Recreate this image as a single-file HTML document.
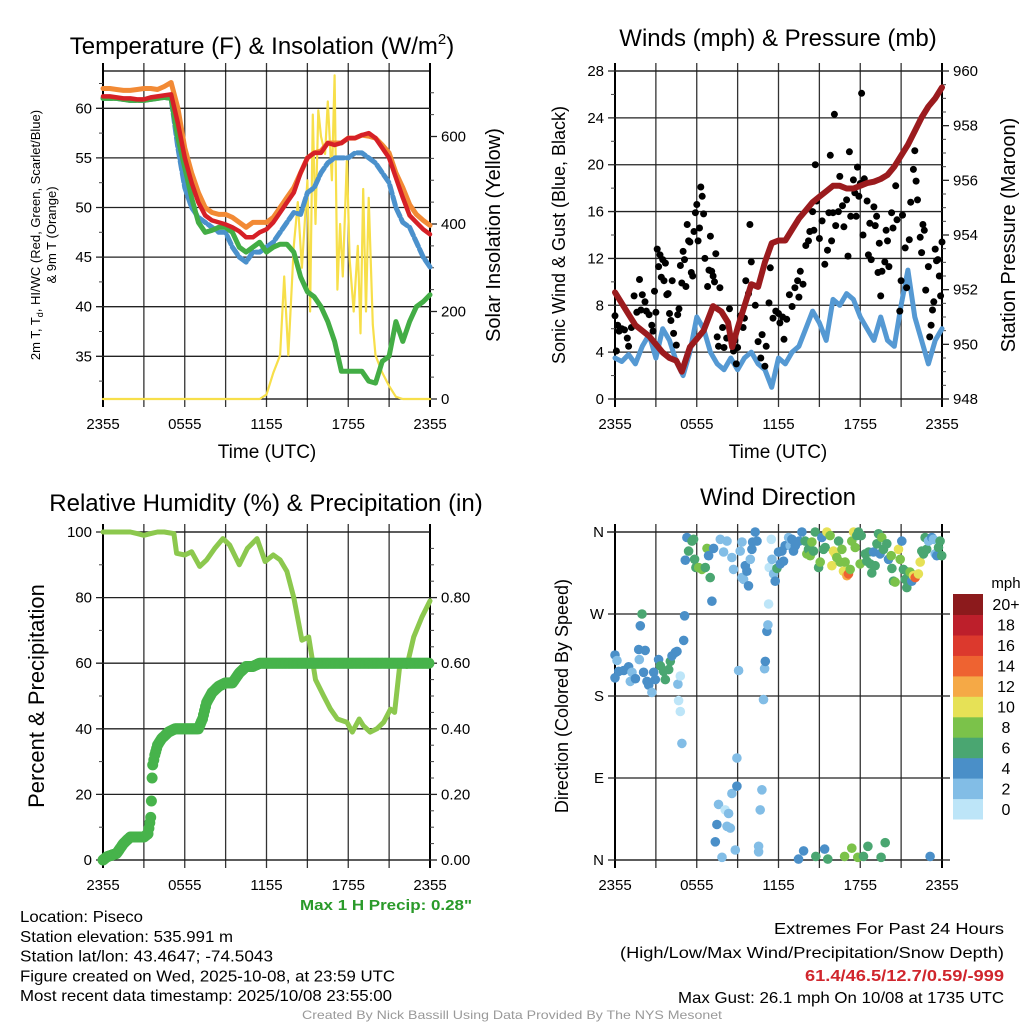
<!DOCTYPE html>
<html><head><meta charset="utf-8"><style>
html,body{margin:0;padding:0;background:#fff;}
svg{display:block;font-family:"Liberation Sans",sans-serif;}
</style></head><body>
<svg id="c" width="1024" height="1024" xmlns="http://www.w3.org/2000/svg"></svg>
<script>
// ---------- DATA ----------
const tempT=[0,0.5,1,1.5,2,2.5,3,3.5,4,4.5,5,5.5,6,6.5,7,7.5,8,8.5,9,9.5,10,10.5,11,11.5,12,12.5,13,13.5,14,14.5,15,15.5,16,16.5,17,17.5,18,18.5,19,19.5,20,20.5,21,21.5,22,22.5,23,23.5,24];
const temp2m=[61.2,61.2,61.1,61,61,60.9,60.9,61.1,61.2,61.3,61.4,58.5,55,52.5,50.5,49.2,48.7,48.5,48.3,48,47.6,47,47,47.5,47.8,48.5,49.5,50.5,51.5,53.5,55,55.5,55.5,56.5,56.3,56.5,57,57,57.3,57.5,57,56,55,53,51,49.2,48.5,47.8,47.3];
const temp9m=[62,62,61.9,61.8,61.8,61.9,62,62,61.9,62.2,62.6,60,56,53.5,51.5,50,49.5,49.3,49.3,49,48.5,48,48.5,48.5,48.5,49,50,51,52,53.5,55,55.5,55.7,56.5,56.5,56.5,57,57,57.3,57.2,57,56.3,55.5,53.5,52,50.3,49.3,48.7,48.2];
const dewpt=[61,61,61,60.9,60.8,60.8,60.8,60.9,61,61.1,61,57,54,51,48.5,47.5,47.7,48,48,47.5,46,45.5,46,46.5,45.5,46,46.3,46.3,45.5,43,41.5,41,40,38.5,36.5,33.5,33.5,33.5,33.5,32.5,32.3,34.5,35,38.5,36.5,38.5,40,40.5,41.2];
const hiwc=[61,61,61,60.9,60.8,60.8,60.8,60.9,61,61.1,61,56,52,50,49,48.5,48,47.5,47.5,46,45,44.5,45.5,45.5,46,46.5,47.5,48.5,49.5,49.3,51.5,52,53.5,54.5,55,55,55,55.5,55.5,55,54.5,53.5,52.5,50,48.5,48,46.5,45,44];
const solarT=[0,11.5,12,12.5,13,13.3,13.6,14,14.3,14.6,15,15.2,15.4,15.6,15.8,16,16.3,16.5,16.8,17,17.2,17.4,17.6,17.9,18.1,18.4,18.7,18.9,19.1,19.3,19.5,19.8,20,20.5,21,21.5,22,24];
const solarV=[0,0,10,60,100,280,100,350,450,300,500,200,650,400,660,600,560,680,500,740,250,400,280,550,320,200,350,150,480,200,460,170,100,60,30,5,0,0];
const windT=tempT;
const windV=[3.5,3.2,3.8,3,4.5,5.5,3.5,6,5,3.2,2,4,7,6,4,3,2.5,3.5,2.5,3.5,4,3,2.5,1,3.5,3,4,4.5,6,7.5,6.5,5,8.5,8,9,8.5,7,6,5,7,5,4.5,8,11,7,5,3,5,6];
const presT=[0,0.5,1,1.5,2,2.5,3,3.5,4,4.5,4.9,5.5,6,6.5,7.2,7.8,8.3,8.6,9,9.5,10,10.5,11,11.5,12,12.5,13,13.5,14,14.5,15,15.5,16,16.5,17,17.5,18,18.5,19,19.5,20,20.5,21,21.5,22,22.5,23,23.5,24];
const presV=[951.9,951.5,951.1,950.7,950.5,950.3,950,949.7,949.5,949.4,949.0,949.9,950.2,950.5,951.4,951.2,950.8,949.9,950.6,951.4,952.2,952.1,953.0,953.7,953.8,953.8,954.2,954.6,954.9,955.2,955.4,955.6,955.8,955.8,955.7,955.7,955.8,955.9,955.95,956.05,956.2,956.5,956.9,957.3,957.8,958.3,958.7,959.0,959.4];
const gustT=[0,0.1,0.2,0.3,0.5,0.7,0.9,1,1.2,1.4,1.6,1.8,1.9,2,2.2,2.3,2.5,2.7,2.8,2.9,3,3.1,3.2,3.3,3.4,3.5,3.6,3.7,3.8,3.9,4,4.1,4.2,4.3,4.5,4.6,4.7,4.8,4.9,5,5.1,5.2,5.3,5.4,5.5,5.6,5.7,5.8,5.9,6,6.1,6.2,6.3,6.4,6.5,6.6,6.8,6.9,7,7.1,7.2,7.3,7.4,7.5,7.6,7.7,7.9,8,8.2,8.4,8.6,8.7,8.8,8.9,9,9.2,9.4,9.5,9.6,9.8,9.9,10,10.3,10.5,10.7,10.8,11,11.1,11.3,11.4,11.6,11.8,12,12.1,12.3,12.4,12.6,12.8,13,13.2,13.4,13.5,13.6,13.8,14,14.2,14.3,14.5,14.6,14.7,14.8,15,15.2,15.4,15.6,15.7,15.8,15.9,16,16.1,16.2,16.4,16.5,16.7,16.8,17,17.1,17.2,17.3,17.5,17.6,17.7,17.8,17.9,18,18.1,18.2,18.3,18.5,18.6,18.7,18.8,19,19.1,19.2,19.3,19.4,19.5,19.6,19.8,19.9,20,20.1,20.3,20.4,20.6,20.7,20.9,21,21.1,21.3,21.4,21.6,21.7,21.9,22,22.1,22.2,22.4,22.5,22.6,22.7,22.8,23,23.1,23.2,23.3,23.4,23.5,23.6,23.7,23.8,23.9,24];
const gustV=[7.1,4.1,6.3,5.8,6,5.9,5.2,4.5,6.1,8.8,7.4,10.2,7.6,8.9,8.3,7.5,7.2,6.3,5.8,9.2,7.4,12.8,11.3,12.3,10.4,11.9,10.1,11.6,8.9,9,7.3,6.7,10.1,5.6,4.6,7.2,7.7,11.4,9.9,12.6,11.9,9.6,14.9,13.5,13.4,10.8,10.5,14.3,15.9,16.6,13.5,14.6,18.1,17.3,15.8,12,9.6,11,13.9,10.9,10.5,10,12.4,5.3,4.5,9.5,6.1,4.4,5.2,7.7,4.8,4.1,5,3,4.4,7.1,6.1,6.9,10.1,9,14.9,11.7,8,4.9,3.5,5.5,2.8,4.5,8.2,11.2,6.9,7.5,7.3,6.5,7,5.1,6.8,8.9,7.9,9.5,10.1,8.7,10.9,9.8,13.1,13.5,14.3,16,14.4,20,16.9,13.7,15.2,11.5,12.7,15.9,20.8,13.5,15.9,24.3,14.8,16,19,16.5,14.7,17,12.2,21.1,15.6,18.7,17.6,15.6,19.8,17.3,18.4,26.1,14,18.8,16.9,12.3,15,11.9,16.4,14.8,15.6,10.8,13.3,8.8,10.9,11.7,14.4,13.5,11.3,15.9,14.6,18.2,15.3,7.5,10.1,15.7,12.9,9.5,13.6,16.8,19.6,21.2,18.6,17,13.8,12.5,14.9,14.4,9.3,11.3,5.3,6.3,7.6,8.3,12.8,11.8,11.9,10.5,8.8,13.4];
const rhT=[0,1,2,2.5,3,3.5,4,4.5,5.2,5.4,6,6.5,7.1,7.6,8.2,8.8,9.3,10,10.6,11.3,11.9,12.5,13,13.5,14,14.6,15.1,15.6,16.2,16.7,17.2,17.9,18.3,18.8,19.1,19.6,20.1,20.6,21.1,21.4,21.8,22.3,22.8,23.4,24];
const rhV=[100,100,100,99.5,99,99.5,100,100,99.5,93.5,93,94,89.5,91.5,95,98,96,90,95,98,91,93,91.5,88,80,67,68,55,50,46,43,42,39,43,41,39,40,42,46,45,60,59,68,74,79];
const precipT=[0,0.3,1,1.5,2,3,3.3,3.5,3.55,3.6,3.65,3.8,4,4.3,4.8,5.3,7,7.3,7.6,8,8.5,9,9.5,10,10.5,11,11.5,24];
const precipV=[0,0.01,0.02,0.05,0.07,0.07,0.08,0.13,0.18,0.25,0.29,0.32,0.35,0.37,0.39,0.40,0.40,0.43,0.48,0.51,0.53,0.54,0.54,0.57,0.59,0.59,0.60,0.60];
const dirT=[0,0.15,0,0.27,0.64,1,1.25,1.12,1.5,1.74,1.78,1.86,1.98,2.1,2.22,2.35,2.47,2.71,2.84,2.96,3.2,3.33,3.57,3.69,3.94,4.06,4.18,4.43,4.55,4.62,4.79,4.67,4.79,4.91,5.04,5.11,5.16,5.28,5.4,5.65,5.77,5.84,5.94,6.14,6.38,6.63,6.75,6.87,6.99,7.11,7.24,7.48,7.36,7.6,7.73,7.85,7.97,8.09,8.22,8.22,8.34,8.46,8.58,8.58,8.7,8.83,8.95,8.95,9.07,9.19,9.32,9.32,9.44,9.56,9.68,9.8,9.93,10.05,10.1,10.29,10.42,10.54,10.54,10.66,10.78,10.9,10.98,11.03,11.15,11.22,11.27,11.32,11.47,11.52,11.64,11.76,11.88,12,12.13,12.25,12.37,12.49,12.74,12.86,12.98,13.1,13.23,13.47,13.52,13.72,13.84,13.96,14.08,14.2,14.33,14.45,14.57,14.69,14.74,14.94,15.06,15.18,15.3,15.38,15.43,15.55,15.62,15.79,15.92,16.04,16.16,16.28,16.41,16.53,16.65,16.77,16.85,16.89,17.02,17.14,17.26,17.38,17.38,17.51,17.63,17.75,17.82,17.87,17.99,18.07,18.24,18.36,18.48,18.56,18.61,18.73,18.85,18.97,19.09,19.22,19.34,19.46,19.53,19.58,19.71,19.83,19.95,20.07,20.27,20.32,20.44,20.56,20.81,20.93,21.05,21.17,21.3,21.42,21.49,21.66,21.78,21.91,22.03,22.27,22.4,22.52,22.64,22.76,22.88,23.01,23.13,23.25,23.37,23.5,23.62,23.74,23.86,23.98];
const dirV=[225,219,200,207,208,212,206,196,199,231,220,257,270,206,230,196,192,184,206,198,220,213,207,198,209,218,224,228,229,193,202,175,163,128,241,268,329,354,339,350,352,330,321,321,319,321,342,334,310,284,342,39,20,61,352,3,338,55,350,37,51,35,73,332,319,11,81,112,208,339,349,310,308,323,317,301,330,341,349,360,350,15,9,55,77,176,210,218,251,258,281,321,352,330,314,306,320,338,325,339,328,345,354,345,352,339,345,1,350,360,10,350,336,341,334,349,339,360,4,321,327,354,341,12,343,360,1,356,323,339,336,332,350,327,341,317,4,327,312,314,319,350,13,360,343,356,3,360,325,356,4,336,328,15,338,325,315,338,323,347,358,336,3,354,341,19,347,330,334,320,306,305,341,330,350,319,308,299,316,316,306,312,310,314,327,339,336,354,341,350,4,354,352,336,334,343,350,334];
const dirS=[5,3,5,5,5,5,3,3,5,5,3,5,7,5,5,5,5,3,5,5,5,7,7,7,7,7,5,5,5,3,1,1,1,3,5,5,5,5,7,7,7,7,7,9,9,7,9,5,7,5,5,5,5,3,3,3,3,1,3,3,3,3,3,3,3,3,5,3,3,3,3,3,3,5,5,5,3,5,5,5,5,3,3,3,3,3,3,5,5,3,1,1,1,3,3,5,7,5,5,5,5,5,3,3,5,5,5,5,5,5,5,7,9,7,9,9,7,7,7,7,9,5,7,5,7,11,7,9,11,11,11,9,7,9,9,11,9,9,13,15,9,9,9,11,9,7,9,7,9,7,7,7,7,7,7,7,7,5,7,7,7,5,7,9,7,7,7,5,9,7,7,9,11,9,5,7,7,7,7,9,5,11,15,11,11,7,7,7,7,3,5,5,3,3,5,7,7,7,5,7];
const cbLabels=["0","2","4","6","8","10","12","14","16","18","20+"];
const cbColors=["#bde5f8","#82bde6","#4a8fc8","#4aa671","#7bc24a","#e6e156","#f5a946","#ee6331","#dc392d","#bd1f2b","#8c1a1c"];
const timeLabels=["2355","0555","1155","1755","2355"];

// ---------- DRAW ----------
const NS="http://www.w3.org/2000/svg";
const svg=document.getElementById('c');
function el(tag,attrs,parent){const e=document.createElementNS(NS,tag);for(const k in attrs)e.setAttribute(k,attrs[k]);(parent||svg).appendChild(e);return e;}
function txt(s,x,y,size,anchor,parent,extra){const e=el('text',Object.assign({x:x,y:y,'font-size':size,'text-anchor':anchor||'middle',fill:'#000'},extra||{}),parent);e.textContent=s;return e;}

function mkPanel(name,X0,Y0,X1,Y1){
  const g=el('g',{});
  
  
  const xs=t=>X0+t*(X1-X0)/24;
  return {g,xs,X0,Y0,X1,Y1};
}
function hgrid(P,ys,vals,labels,side,name,minor){
  const ax=el('g',{},P.g);
  
  
  vals.forEach((v,i)=>{const y=ys(v);
    if(side==='left'){el('line',{x1:P.X0-7,x2:P.X1,y1:y,y2:y,stroke:'#222','stroke-width':1.3},ax);
      txt(labels[i],P.X0-11,y+5,15,'end',ax);}
    else {el('line',{x1:P.X1,x2:P.X1+7,y1:y,y2:y,stroke:'#222','stroke-width':1.3},ax);
      txt(labels[i],P.X1+11,y+5,15,'start',ax);}
  });
  (minor||[]).forEach(v=>{const y=ys(v);
    if(side==='left')el('line',{x1:P.X0-4,x2:P.X0,y1:y,y2:y,stroke:'#444','stroke-width':1},ax);
    else el('line',{x1:P.X1,x2:P.X1+4,y1:y,y2:y,stroke:'#444','stroke-width':1},ax);});
}
function frame(P,top){
  const ax=el('g',{},P.g);
  
  
  for(let h=0;h<=24;h+=3){const x=P.xs(h);
    el('line',{x1:x,x2:x,y1:P.Y0-8,y2:P.Y1+8,stroke:(h===0||h===24)?'#000':'#333','stroke-width':(h===0||h===24)?2:1.3},ax);}
  if(top)el('line',{x1:P.X0,x2:P.X1,y1:P.Y0,y2:P.Y0,stroke:'#000','stroke-width':1.3},ax);
  el('line',{x1:P.X0,x2:P.X1,y1:P.Y1,y2:P.Y1,stroke:'#000','stroke-width':1.3},ax);
  timeLabels.forEach((s,i)=>txt(s,P.xs(i*6),P.Y1+30,15,'middle',ax));
}
function poly(P,T,V,ys,color,w,name,dash){
  let d='';T.forEach((t,i)=>{d+=(i?'L':'M')+P.xs(t).toFixed(1)+','+ys(V[i]).toFixed(1);});
  const p=el('path',{d:d,fill:'none',stroke:color,'stroke-width':w,'stroke-linejoin':'round','stroke-linecap':'round'},P.g);
  if(dash)p.setAttribute('stroke-dasharray',dash);
  
  
  return p;
}
function rotLabel(s,x,y,size,parent,name){
  const t=txt(s,x,y,size,'middle',parent,{transform:'rotate(-90 '+x+' '+y+')'});
  
  
  return t;
}

// Panel 1: Temperature
{
  const P=mkPanel('temperature-panel',103,71,430,399);
  const yT=v=>108.3+(60-v)*9.92;
  const yS=v=>399-v*0.4375;
  frame(P,true);
  hgrid(P,yT,[35,40,45,50,55,60],['35','40','45','50','55','60'],'left','y-axis-left',[32.5,37.5,42.5,47.5,52.5,57.5,62.5]);
  hgrid(P,yS,[0,200,400,600],['0','200','400','600'],'right','y-axis-right',[50,100,150,250,300,350,450,500,550,650,700]);
  poly(P,solarT,solarV,yS,'#f7df4a',2.2,'solar-line');
  poly(P,tempT,hiwc,yT,'#4b91cc',5,'hiwc-line','9 3');
  poly(P,tempT,dewpt,yT,'#43ad45',5,'dewpoint-line');
  poly(P,tempT,temp9m,yT,'#f28a35',5,'temp-9m-line');
  poly(P,tempT,temp2m,yT,'#d62027',4.5,'temp-2m-line');
  const t=txt('Temperature (F) & Insolation (W/m',262,54,24,'middle',P.g);
  const sup=el('tspan',{dy:-10,'font-size':15},t);sup.textContent='2';
  const cl=el('tspan',{dy:10},t);cl.textContent=')';
  
  
  const yl=txt('',40,235,13,'middle',P.g,{transform:'rotate(-90 40 235)'});
  
  
  const a=el('tspan',{},yl);a.textContent='2m T, T';
  const b=el('tspan',{dy:3,'font-size':9},yl);b.textContent='d';
  const c=el('tspan',{dy:-3},yl);c.textContent=', HI/WC (Red, Green, Scarlet/Blue)';
  rotLabel('& 9m T (Orange)',56,235,13,P.g,'y-axis-title-2');
  rotLabel('Solar Insolation (Yellow)',500,235,20,P.g,'y-axis-right-title');
  const xl=txt('Time (UTC)',267,458,19,'middle',P.g);
  
  
}
// Panel 2: Winds
{
  const P=mkPanel('wind-panel',615,71,942,399);
  const yW=v=>399-v*328/28;
  const yP=v=>399-(v-948)*328/12;
  frame(P,true);
  hgrid(P,yW,[0,4,8,12,16,20,24,28],['0','4','8','12','16','20','24','28'],'left','y-axis-left',[2,6,10,14,18,22,26]);
  hgrid(P,yP,[948,950,952,954,956,958,960],['948','950','952','954','956','958','960'],'right','y-axis-right',[948.5,949,949.5,950.5,951,951.5,952.5,953,953.5,954.5,955,955.5,956.5,957,957.5,958.5,959,959.5]);
  poly(P,windT,windV,yW,'#5599d3',5,'wind-speed-line');
  gustT.forEach((t,i)=>{const c=el('circle',{cx:P.xs(t).toFixed(1),cy:yW(gustV[i]).toFixed(1),r:3.5,fill:'#000'},P.g);
    
    });
  poly(P,presT,presV,yP,'#9b1b1e',6,'pressure-line');
  const t=txt('Winds (mph) & Pressure (mb)',778,46,24,'middle',P.g);
  
  
  rotLabel('Sonic Wind & Gust (Blue, Black)',565,235,18,P.g,'y-axis-title');
  rotLabel('Station Pressure (Maroon)',1015,235,20,P.g,'y-axis-right-title');
  const xl=txt('Time (UTC)',778,458,19,'middle',P.g);
  
  
}
// Panel 3: RH & precip
{
  const P=mkPanel('humidity-panel',103,532,430,860);
  const yR=v=>860-v*3.28;
  const yPr=v=>860-v*328;
  frame(P,true);
  hgrid(P,yR,[0,20,40,60,80,100],['0','20','40','60','80','100'],'left','y-axis-left',[10,30,50,70,90]);
  hgrid(P,yPr,[0,0.2,0.4,0.6,0.8],['0.00','0.20','0.40','0.60','0.80'],'right','y-axis-right',[0.05,0.1,0.15,0.25,0.3,0.35,0.45,0.5,0.55,0.65,0.7,0.75,0.85,0.9,0.95]);
  poly(P,rhT,rhV,yR,'#8cc84e',5,'rh-line');
  for(let i=0;i<precipT.length-1;i++){
    const t0=precipT[i],t1=precipT[i+1],v0=precipV[i],v1=precipV[i+1];
    const n=Math.max(1,Math.ceil((t1-t0)*12));
    for(let k=0;k<n;k++){const f=k/n;
      const c=el('circle',{cx:P.xs(t0+(t1-t0)*f).toFixed(1),cy:yPr(v0+(v1-v0)*f).toFixed(1),r:5.5,fill:'#47b34b'},P.g);
      
      }
  }
  const t=txt('Relative Humidity (%) & Precipitation (in)',266,511,24,'middle',P.g);
  
  
  rotLabel('Percent & Precipitation',44,696,22,P.g,'y-axis-title');
}
// Panel 4: Wind direction
{
  const P=mkPanel('wind-direction-panel',615,532,942,860);
  const yD=v=>860-v*328/360;
  frame(P,false);
  el('line',{x1:P.X0-8,x2:P.X1+8,y1:532,y2:532,stroke:'#000','stroke-width':1.3},P.g);
  hgrid(P,yD,[0,90,180,270,360],['N','E','S','W','N'],'left','y-axis-left',[]);
  [90,180,270].forEach(v=>el('line',{x1:P.X1,x2:P.X1+8,y1:yD(v),y2:yD(v),stroke:'#222','stroke-width':1.3},P.g));
  el('line',{x1:P.X1,x2:P.X1+8,y1:860,y2:860,stroke:'#222','stroke-width':1.3},P.g);
  dirT.forEach((t,i)=>{const bin=Math.min(10,Math.floor(dirS[i]/2));
    const c=el('circle',{cx:P.xs(t).toFixed(1),cy:yD(dirV[i]).toFixed(1),r:4.8,fill:cbColors[bin]},P.g);
    
    });
  const t=txt('Wind Direction',778,505,24,'middle',P.g);
  
  
  rotLabel('Direction (Colored By Speed)',568,696,18,P.g,'y-axis-title');
  const lg=el('g',{},P.g);
  
  
  const bh=(819-594)/11;
  cbColors.forEach((col,i)=>{const y=819-(i+1)*bh;
    const r=el('rect',{x:953,y:y.toFixed(1),width:30,height:(bh+0.5).toFixed(1),fill:col},lg);
    
    
    txt(cbLabels[i],1006,y+bh/2+6,16,'middle',lg);});
  txt('mph',1006,588,15,'middle',lg);
}
// Footer
{
  const g=el('g',{});
  
  
  const L=[["Location: Piseco",123],["Station elevation: 535.991 m",213],["Station lat/lon: 43.4647; -74.5043",253],["Figure created on Wed, 2025-10-08, at 23:59 UTC",375],["Most recent data timestamp: 2025/10/08 23:55:00",372]];
  L.forEach((l,i)=>txt(l[0],20,922+i*19.8,16,'start',g,{textLength:l[1],lengthAdjust:'spacingAndGlyphs'}));
  txt('Max 1 H Precip: 0.28"',472,910,15,'end',g,{fill:'#2a9a2a','font-weight':'bold',textLength:172,lengthAdjust:'spacingAndGlyphs'});
  txt('Extremes For Past 24 Hours',1004,934,16,'end',g,{textLength:230,lengthAdjust:'spacingAndGlyphs'});
  txt('(High/Low/Max Wind/Precipitation/Snow Depth)',1004,958,16,'end',g,{textLength:384,lengthAdjust:'spacingAndGlyphs'});
  txt('61.4/46.5/12.7/0.59/-999',1004,981,16,'end',g,{fill:'#d0262d','font-weight':'bold',textLength:199,lengthAdjust:'spacingAndGlyphs'});
  txt('Max Gust: 26.1 mph On 10/08 at 1735 UTC',1004,1003,16,'end',g,{textLength:326,lengthAdjust:'spacingAndGlyphs'});
  txt('Created By Nick Bassill Using Data Provided By The NYS Mesonet',512,1019,12,'middle',g,{fill:'#999',textLength:420,lengthAdjust:'spacingAndGlyphs'});
}
</script>
</body></html>
